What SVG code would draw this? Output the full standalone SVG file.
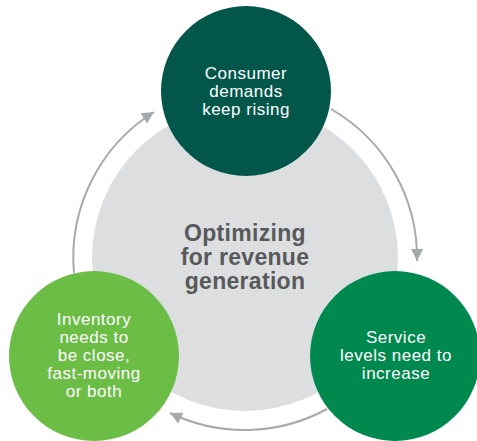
<svg xmlns="http://www.w3.org/2000/svg" width="477" height="441" viewBox="0 0 477 441">
  <style>
    .lbl { font-family: "Liberation Sans", Arial, sans-serif; font-size: 17px; letter-spacing: 0.5px; fill: #ffffff; text-anchor: middle; }
    .hub { font-family: "Liberation Sans", Arial, sans-serif; font-size: 23px; font-weight: bold; letter-spacing: 0.3px; fill: #58595b; text-anchor: middle; }
    .flow { fill: none; stroke: #a7a9ac; stroke-width: 2; marker-end: url(#head); }
  </style>
  <defs>
    <marker id="head" markerUnits="userSpaceOnUse" markerWidth="14" markerHeight="14" viewBox="0 0 14 14" refX="13" refY="7" orient="auto">
      <path d="M1,1 L13,7 L1,13 Z" fill="#a7a9ac"/>
    </marker>
  </defs>

  <!-- central hub -->
  <g id="hub">
    <circle cx="245" cy="258" r="153" fill="#dcdee0"/>
    <text class="hub" x="245" y="241">Optimizing</text>
    <text class="hub" x="245" y="265">for revenue</text>
    <text class="hub" x="245" y="289">generation</text>
  </g>

  <!-- cycle arrows -->
  <g id="connectors">
    <path class="flow" d="M331,109 A172,172 0 0 1 417,261"/>
    <path class="flow" d="M327,409 A172,172 0 0 1 170,413"/>
    <path class="flow" d="M74,273 A172,172 0 0 1 154,112"/>
  </g>

  <g id="consumer">
    <circle cx="246" cy="91" r="85" fill="#02574a"/>
    <text class="lbl" x="246" y="79">Consumer</text>
    <text class="lbl" x="246" y="97">demands</text>
    <text class="lbl" x="246" y="115">keep rising</text>
  </g>

  <g id="service">
    <circle cx="395" cy="356" r="85" fill="#00894f"/>
    <text class="lbl" x="396" y="343">Service</text>
    <text class="lbl" x="396" y="361">levels need to</text>
    <text class="lbl" x="396" y="379">increase</text>
  </g>

  <g id="inventory">
    <circle cx="94" cy="356" r="85" fill="#6bbd45"/>
    <text class="lbl" x="94" y="325">Inventory</text>
    <text class="lbl" x="94" y="343">needs to</text>
    <text class="lbl" x="94" y="361">be close,</text>
    <text class="lbl" x="94" y="379">fast-moving</text>
    <text class="lbl" x="94" y="397">or both</text>
  </g>
</svg>
